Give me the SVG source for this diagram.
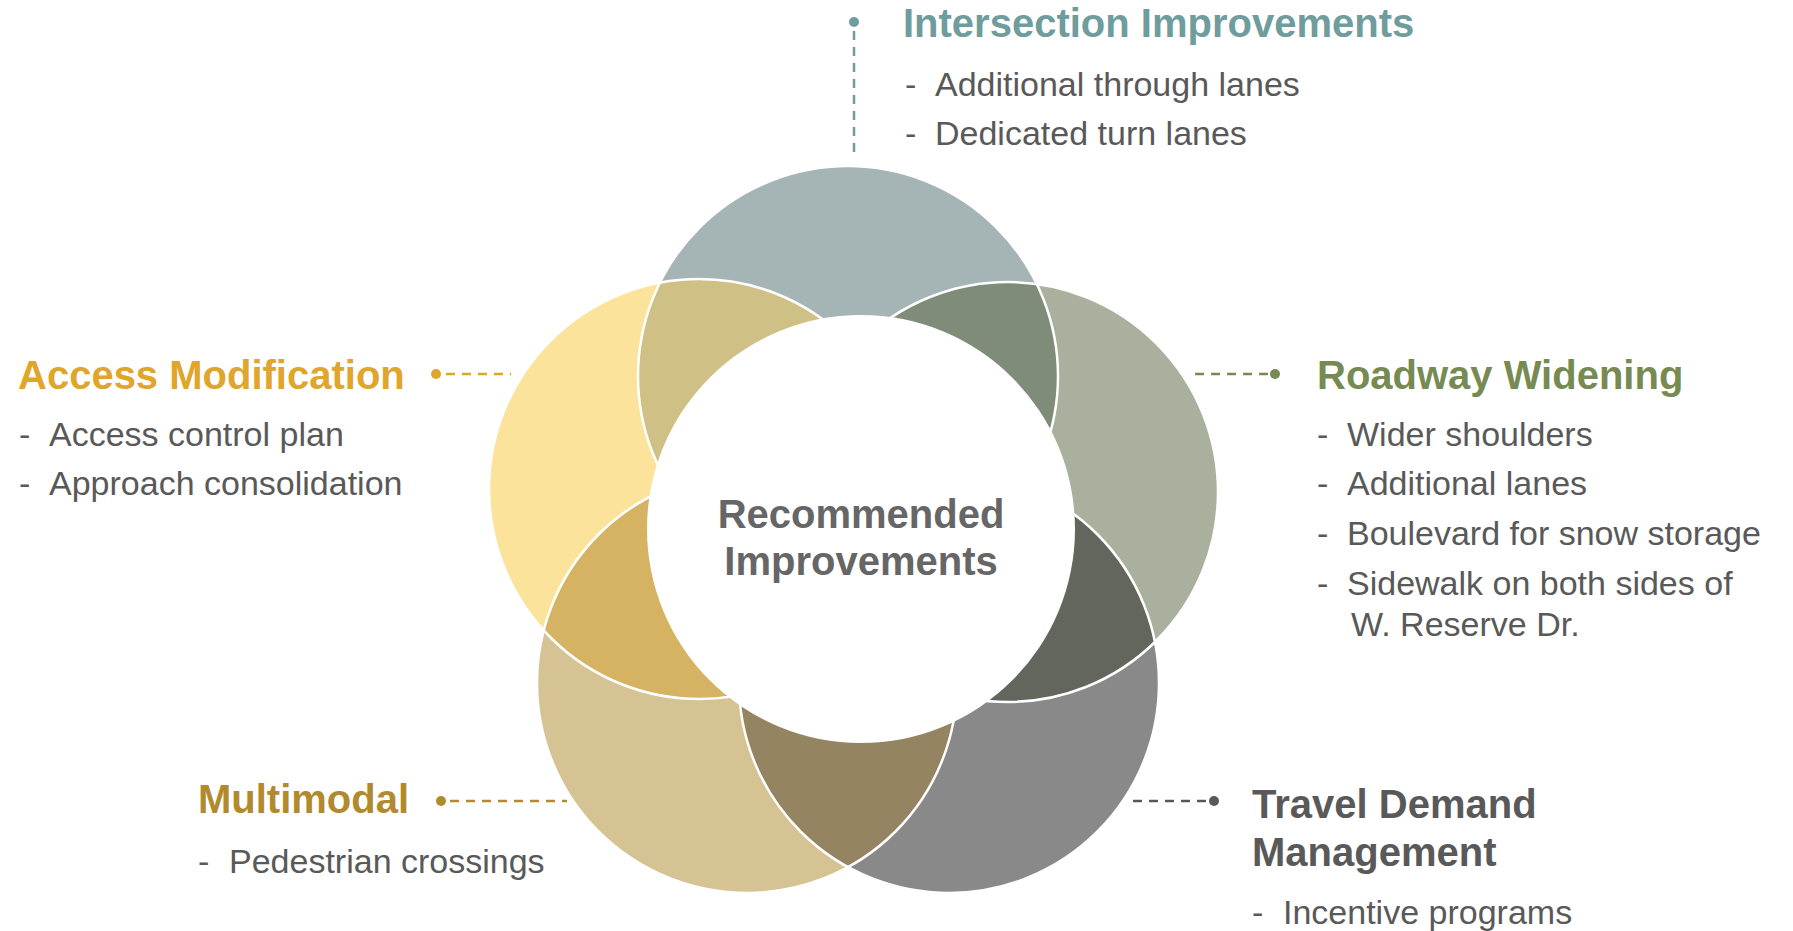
<svg xmlns="http://www.w3.org/2000/svg" width="1793" height="931" viewBox="0 0 1793 931">
<style>
text{font-family:"Liberation Sans",Arial,sans-serif;}
.title{font-size:40px;font-weight:bold;}
.item{font-size:34px;fill:#595959;}
.center{font-size:40px;font-weight:bold;fill:#666666;}
.outline{fill:none;stroke:#FFFFFF;stroke-width:2.5;}
.dash{fill:none;stroke-width:2.5;stroke-dasharray:9 7;}
</style>
<defs>
<clipPath id="cT"><circle cx="848" cy="376" r="210"/></clipPath>
<clipPath id="cUR"><circle cx="1008" cy="492" r="210"/></clipPath>
<clipPath id="cLR"><circle cx="949" cy="683" r="210"/></clipPath>
<clipPath id="cLL"><circle cx="747" cy="683" r="210"/></clipPath>
<clipPath id="cUL"><circle cx="699" cy="489" r="210"/></clipPath>
</defs>
<rect width="1793" height="931" fill="#FFFFFF"/>

<g id="flower">
<circle cx="848" cy="376" r="210" fill="#A5B5B5"/>
<circle cx="1008" cy="492" r="210" fill="#A9B09D"/>
<circle cx="949" cy="683" r="210" fill="#898989"/>
<circle cx="747" cy="683" r="210" fill="#D6C394"/>
<circle cx="699" cy="489" r="210" fill="#FBE39C"/>
<circle cx="1008" cy="492" r="210" fill="#7F8C79" clip-path="url(#cT)"/>
<circle cx="949" cy="683" r="210" fill="#62665C" clip-path="url(#cUR)"/>
<circle cx="747" cy="683" r="210" fill="#958462" clip-path="url(#cLR)"/>
<circle cx="699" cy="489" r="210" fill="#D5B363" clip-path="url(#cLL)"/>
<circle cx="848" cy="376" r="210" fill="#CFC185" clip-path="url(#cUL)"/>
<circle class="outline" cx="848" cy="376" r="210"/>
<circle class="outline" cx="1008" cy="492" r="210"/>
<circle class="outline" cx="949" cy="683" r="210"/>
<circle class="outline" cx="747" cy="683" r="210"/>
<circle class="outline" cx="699" cy="489" r="210"/>
</g>

<g id="center">
<circle cx="861" cy="529" r="214" fill="#FFFFFF"/>
<text class="center" x="861" y="528" text-anchor="middle">Recommended</text>
<text class="center" x="861" y="575" text-anchor="middle">Improvements</text>
</g>

<g id="connectors">
<line class="dash" x1="854" y1="31" x2="854" y2="155" stroke="#6F9C9C"/>
<circle cx="854" cy="22" r="5" fill="#6F9C9C"/>
<line class="dash" x1="446" y1="374" x2="511" y2="374" stroke="#E0A52B"/>
<circle cx="436" cy="374" r="5" fill="#E0A52B"/>
<line class="dash" x1="1195" y1="374" x2="1268" y2="374" stroke="#778A52"/>
<circle cx="1275" cy="374" r="5" fill="#778A52"/>
<line class="dash" x1="450" y1="801" x2="567" y2="801" stroke="#B28A2E"/>
<circle cx="441" cy="801" r="5" fill="#B28A2E"/>
<line class="dash" x1="1133" y1="801" x2="1207" y2="801" stroke="#595959"/>
<circle cx="1214" cy="801" r="5" fill="#595959"/>
</g>

<g id="node-intersection">
<text class="title" x="903" y="37" fill="#6F9C9C">Intersection Improvements</text>
<text class="item" x="905" y="96">-</text><text class="item" x="935" y="96">Additional through lanes</text>
<text class="item" x="905" y="145">-</text><text class="item" x="935" y="145">Dedicated turn lanes</text>
</g>

<g id="node-access">
<text class="title" x="18" y="389" fill="#E0A52B">Access Modification</text>
<text class="item" x="19" y="446">-</text><text class="item" x="49" y="446">Access control plan</text>
<text class="item" x="19" y="495">-</text><text class="item" x="49" y="495">Approach consolidation</text>
</g>

<g id="node-roadway">
<text class="title" x="1317" y="389" fill="#778A52">Roadway Widening</text>
<text class="item" x="1317" y="446">-</text><text class="item" x="1347" y="446">Wider shoulders</text>
<text class="item" x="1317" y="495">-</text><text class="item" x="1347" y="495">Additional lanes</text>
<text class="item" x="1317" y="545">-</text><text class="item" x="1347" y="545">Boulevard for snow storage</text>
<text class="item" x="1317" y="595">-</text><text class="item" x="1347" y="595">Sidewalk on both sides of</text>
<text class="item" x="1351" y="636">W. Reserve Dr.</text>
</g>

<g id="node-multimodal">
<text class="title" x="198" y="813" fill="#B28A2E">Multimodal</text>
<text class="item" x="198" y="873">-</text><text class="item" x="229" y="873">Pedestrian crossings</text>
</g>

<g id="node-travel">
<text class="title" x="1252" y="818" fill="#595959">Travel Demand</text>
<text class="title" x="1252" y="866" fill="#595959">Management</text>
<text class="item" x="1252" y="924">-</text><text class="item" x="1283" y="924">Incentive programs</text>
</g>
</svg>
